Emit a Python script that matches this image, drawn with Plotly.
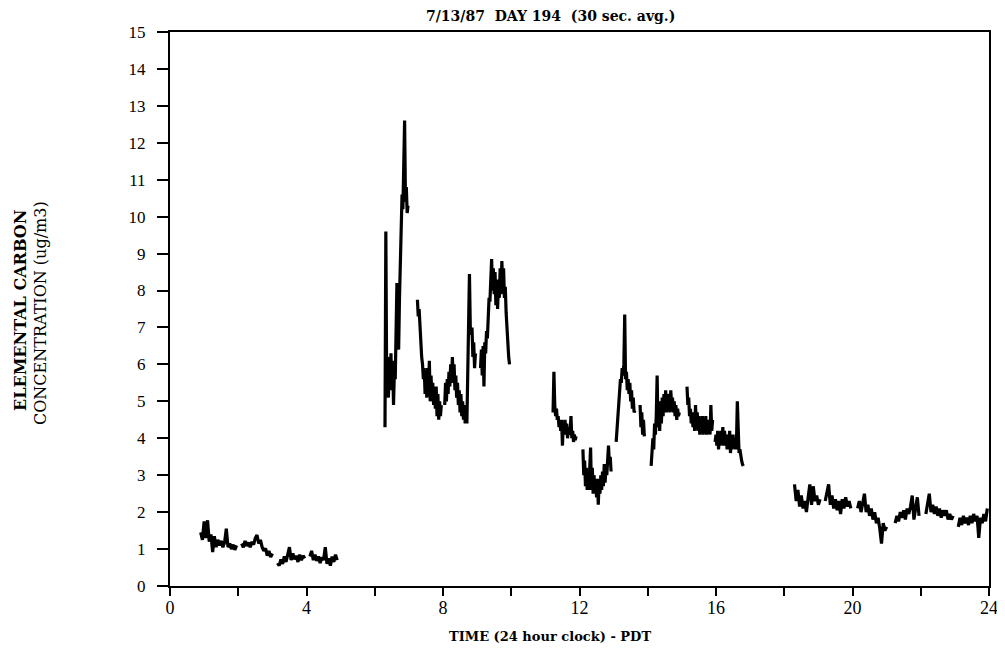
import plotly.graph_objects as go

# ---- data (hours, ug/m3) ----
# each segment: start time (h), sampling step (h), values
seg_a1_start, seg_a1_step = 0.90, 0.05
seg_a1 = [1.45, 1.25, 1.75, 1.30, 1.78, 1.20, 1.40, 0.92, 1.35, 1.05, 1.25, 1.10,
          1.22, 1.05, 1.18, 1.55, 1.05, 1.15, 1.00, 1.12, 0.98, 1.10]
seg_a2_start, seg_a2_step = 2.10, 0.05
seg_a2 = [1.15, 1.05, 1.22, 1.08, 1.18, 1.05, 1.20, 1.12, 1.30, 1.38, 1.15, 1.25,
          1.05, 0.95, 1.02, 0.82, 0.95, 0.78, 0.88]
seg_a3_start, seg_a3_step = 3.15, 0.05
seg_a3 = [0.62, 0.55, 0.72, 0.60, 0.80, 0.65, 0.85, 1.05, 0.70, 0.88, 0.72, 0.82,
          0.65, 0.85, 0.70, 0.82, 0.75]
seg_a4_start, seg_a4_step = 4.10, 0.05
seg_a4 = [0.80, 0.95, 0.70, 0.85, 0.68, 0.80, 0.62, 0.78, 0.70, 1.05, 0.60, 0.75,
          0.55, 0.80, 0.65, 0.85, 0.70]

seg_b1_start, seg_b1_step = 6.30, 0.025
seg_b1 = [4.3, 9.6, 5.4, 6.2, 5.1, 6.0, 5.6, 6.3, 5.3, 6.1, 4.9, 5.8, 5.6, 7.6, 8.2,
          7.2, 6.4, 7.8, 8.9, 9.8, 10.6, 10.2, 11.8, 12.6, 10.4, 10.8, 10.1, 10.3]
seg_b2_start, seg_b2_step = 7.25, 0.025
seg_b2 = [7.75, 7.3, 7.5, 6.9, 6.6, 6.2, 6.0, 5.6, 5.9, 5.2, 5.8, 5.1, 5.9, 5.3, 6.1,
          5.0, 5.7, 5.1, 5.5, 4.9, 5.3, 4.8, 5.4, 4.6, 5.2, 4.5, 5.0, 4.6, 4.9]
seg_b3_start, seg_b3_step = 8.05, 0.025
seg_b3 = [4.9, 5.5, 5.0, 5.6, 5.2, 5.8, 5.4, 6.0, 5.5, 6.2, 5.6, 6.0, 5.3, 5.7, 5.1,
          5.5, 4.9, 5.3, 4.7, 5.2, 4.6, 5.0, 4.5, 4.9, 4.4, 4.7, 4.4, 6.0, 7.5, 8.45,
          7.0, 6.8, 7.0, 6.2, 6.6, 5.9, 6.3]
seg_b4_start, seg_b4_step = 9.10, 0.025
seg_b4 = [5.9, 6.4, 5.7, 6.5, 5.4, 6.6, 6.3, 6.9, 6.7, 7.4, 7.8, 7.7, 8.2, 8.85, 8.0,
          8.6, 7.9, 8.5, 7.6, 8.3, 7.5, 8.2, 7.8, 8.6, 7.9, 8.8, 8.1, 8.6, 7.8, 8.1,
          7.4, 6.9, 6.5, 6.2, 6.0]

seg_c1_start, seg_c1_step = 11.225, 0.025
seg_c1 = [4.7, 5.8, 4.9, 4.6, 4.8, 4.5, 4.6, 4.3, 4.5, 4.2, 4.5, 3.8, 4.4, 4.1, 4.5,
          4.2, 4.4, 4.0, 4.3, 4.1, 4.2, 4.6, 4.0, 4.2, 3.9, 4.1, 3.95, 4.05]
seg_c2_start, seg_c2_step = 12.10, 0.025
seg_c2 = [3.7, 3.0, 3.4, 2.7, 3.2, 2.6, 3.1, 2.6, 3.2, 3.75, 2.6, 3.2, 2.5, 3.0, 2.6,
          2.9, 2.4, 2.9, 2.2, 2.8, 2.5, 3.0, 2.6, 3.1, 2.7, 3.3, 2.8, 3.2, 3.0, 3.4,
          3.8, 3.3, 3.5, 3.1]
seg_c3_start, seg_c3_step = 13.075, 0.025
seg_c3 = [3.9, 4.2, 4.6, 4.9, 5.3, 5.6, 5.5, 5.9, 5.7, 6.0, 7.35, 5.6, 5.8, 5.3, 5.6,
          5.2, 5.5, 5.0, 5.3, 4.8, 5.1, 4.7, 4.75]
seg_c4_start, seg_c4_step = 13.775, 0.025
seg_c4 = [4.9, 4.3, 4.7, 4.1, 4.5, 4.05]
seg_c5_start, seg_c5_step = 14.10, 0.025
seg_c5 = [3.25, 3.6, 4.0, 3.7, 4.4, 4.1, 4.6, 5.7, 4.3, 4.9, 4.2, 5.0, 4.4, 5.1, 4.6,
          5.2, 4.8, 5.3, 4.7, 5.1, 4.8, 5.2, 4.7, 5.3, 4.9, 5.1, 4.7, 5.0, 4.6, 4.9,
          4.5, 4.8, 4.6, 4.7]
seg_c6_start, seg_c6_step = 15.15, 0.025
seg_c6 = [5.4, 4.9, 5.1, 4.6, 4.8, 4.4, 4.7, 4.3, 4.6, 4.2, 4.9, 4.3, 4.7, 4.2, 4.6,
          4.1, 4.5, 4.2, 4.6, 4.1, 4.5, 4.15, 4.6, 4.1, 4.5, 4.2, 4.4, 4.1, 4.9, 4.2,
          4.5]
seg_c7_start, seg_c7_step = 15.975, 0.025
seg_c7 = [3.9, 4.1, 3.8, 4.2, 3.7, 4.1, 3.8, 4.2, 3.9, 4.3, 3.8, 4.2, 3.9, 4.1, 3.7,
          4.0, 3.8, 4.2, 3.6, 4.0, 3.7, 4.1, 3.8, 4.0, 3.7, 3.9, 5.0, 3.8, 3.6, 3.7,
          3.5, 3.4, 3.3, 3.25]

seg_d1_start, seg_d1_step = 18.30, 0.05
seg_d1 = [2.75, 2.3, 2.6, 2.15, 2.45, 2.1, 2.3, 2.0, 2.4, 2.75, 2.2, 2.7, 2.3, 2.45,
          2.2, 2.35]
seg_d2_start, seg_d2_step = 19.20, 0.05
seg_d2 = [2.3, 2.5, 2.75, 2.2, 2.45, 2.1, 2.35, 2.05, 2.3, 1.95, 2.35, 2.1, 2.4, 2.15,
          2.3, 2.1]
seg_d3_start, seg_d3_step = 20.15, 0.05
seg_d3 = [2.1, 2.3, 2.0, 2.25, 2.5, 2.0, 2.2, 1.9, 2.1, 1.8, 2.0, 1.7, 1.85, 1.55,
          1.15, 1.7, 1.5, 1.6]
seg_d4_start, seg_d4_step = 21.25, 0.05
seg_d4 = [1.7, 1.9, 1.75, 2.0, 1.85, 2.05, 1.8, 2.1, 1.95, 2.15, 2.45, 1.8, 2.1, 2.4,
          1.9]
seg_d5_start, seg_d5_step = 22.15, 0.05
seg_d5 = [1.95, 2.2, 2.5, 2.0, 2.2, 1.95, 2.15, 1.9, 2.1, 1.85, 2.05, 1.9, 2.05, 1.8,
          1.95, 1.8, 1.9]
seg_d6_start, seg_d6_step = 23.10, 0.05
seg_d6 = [1.6, 1.85, 1.65, 1.9, 1.7, 1.85, 1.65, 1.9, 1.7, 1.95, 1.75, 1.9, 1.3, 1.85,
          1.7, 1.95, 1.75, 2.1]

x_tick_vals = [0, 2, 4, 6, 8, 10, 12, 14, 16, 18, 20, 22, 24]
x_tick_text = ["0", "", "4", "", "8", "", "12", "", "16", "", "20", "", "24"]
y_tick_vals = list(range(0, 16))

segments = [
    (seg_a1_start, seg_a1_step, seg_a1), (seg_a2_start, seg_a2_step, seg_a2),
    (seg_a3_start, seg_a3_step, seg_a3), (seg_a4_start, seg_a4_step, seg_a4),
    (seg_b1_start, seg_b1_step, seg_b1), (seg_b2_start, seg_b2_step, seg_b2),
    (seg_b3_start, seg_b3_step, seg_b3), (seg_b4_start, seg_b4_step, seg_b4),
    (seg_c1_start, seg_c1_step, seg_c1), (seg_c2_start, seg_c2_step, seg_c2),
    (seg_c3_start, seg_c3_step, seg_c3), (seg_c4_start, seg_c4_step, seg_c4),
    (seg_c5_start, seg_c5_step, seg_c5), (seg_c6_start, seg_c6_step, seg_c6),
    (seg_c7_start, seg_c7_step, seg_c7),
    (seg_d1_start, seg_d1_step, seg_d1), (seg_d2_start, seg_d2_step, seg_d2),
    (seg_d3_start, seg_d3_step, seg_d3), (seg_d4_start, seg_d4_step, seg_d4),
    (seg_d5_start, seg_d5_step, seg_d5), (seg_d6_start, seg_d6_step, seg_d6),
]

xs, ys = [], []
for start, step, vals in segments:
    for i, v in enumerate(vals):
        xs.append(round(start + i * step, 4))
        ys.append(v)
    xs.append(None)
    ys.append(None)

TICKFONT = "Liberation Serif"
LABELFONT = "DejaVu Serif"

# page body has an 8px margin: figure pixel = screen pixel - 8
OFF = 8
W, H = 1005 - 2 * OFF, 653 - 2 * OFF
# plot area in screen pixels (from the reference), shifted into figure pixels
L, R, T, B = 170 - OFF, 989 - OFF, 32 - OFF, 586 - OFF
PW, PH = R - L, B - T


def px(sx):
    return (sx - OFF - L) / PW


def py(sy):
    return (B - (sy - OFF)) / PH


fig = go.Figure()
fig.add_trace(go.Scatter(x=xs, y=ys, mode="lines",
                         line=dict(color="black", width=3.2),
                         connectgaps=False, hoverinfo="skip", showlegend=False))

fig.update_layout(
    width=W, height=H,
    margin=dict(l=L, r=W - R, t=T, b=H - B, autoexpand=False),
    paper_bgcolor="white", plot_bgcolor="white",
    font=dict(family=TICKFONT, color="black", size=15),
    showlegend=False,
)
fig.update_xaxes(range=[0, 24], tickvals=x_tick_vals, ticktext=x_tick_text,
                 ticks="outside", ticklen=8, tickwidth=1.5, tickcolor="black",
                 showline=True, linecolor="black", linewidth=2, mirror=True,
                 showgrid=False, zeroline=False, automargin=False,
                 ticklabeloverflow="allow", ticklabelstandoff=-4,
                 tickfont=dict(family=TICKFONT, size=18, color="black"))
fig.update_yaxes(range=[0, 15], tickvals=y_tick_vals,
                 ticks="outside", ticklen=11, tickwidth=1.5, tickcolor="black",
                 showline=True, linecolor="black", linewidth=2, mirror=True,
                 showgrid=False, zeroline=False, automargin=False,
                 ticklabelstandoff=8,
                 tickfont=dict(family=TICKFONT, size=17, color="black"))

fig.add_annotation(text="<b>7/13/87  DAY 194  (30 sec. avg.)</b>", xref="paper", yref="paper",
                   x=px(550), y=py(16), showarrow=False,
                   xanchor="center", yanchor="middle",
                   font=dict(family=LABELFONT, size=14, color="black"))
fig.add_annotation(text="<b>TIME (24 hour clock) - PDT</b>", xref="paper", yref="paper",
                   x=px(550), y=py(636), showarrow=False,
                   xanchor="center", yanchor="middle",
                   font=dict(family=LABELFONT, size=13, color="black"))
fig.add_annotation(text="<b>ELEMENTAL CARBON</b>", xref="paper", yref="paper",
                   x=px(20), y=py(311), showarrow=False,
                   textangle=-90, xanchor="center", yanchor="middle",
                   font=dict(family=LABELFONT, size=16, color="black"))
fig.add_annotation(text="CONCENTRATION (ug/m3)", xref="paper", yref="paper",
                   x=px(40), y=py(313), showarrow=False,
                   textangle=-90, xanchor="center", yanchor="middle",
                   font=dict(family=LABELFONT, size=16, color="black"))

fig.write_html("out.html")
